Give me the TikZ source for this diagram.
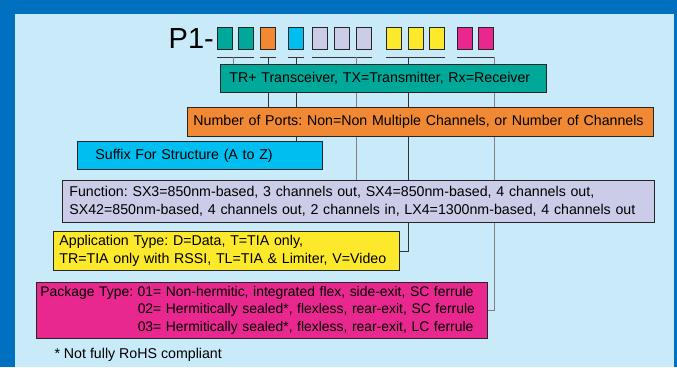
\documentclass[tikz,border=0pt]{standalone}
\usepackage{fontspec}
\setmainfont{Liberation Sans}
\usetikzlibrary{backgrounds}

\definecolor{frameblue}{RGB}{0,112,192}
\definecolor{paleblue}{RGB}{200,234,249}
\definecolor{tealc}{RGB}{0,168,154}
\definecolor{orangec}{RGB}{240,136,52}
\definecolor{cyanc}{RGB}{0,190,240}
\definecolor{lavc}{RGB}{202,204,232}
\definecolor{yellowc}{RGB}{253,233,43}
\definecolor{pinkc}{RGB}{232,40,142}

\begin{document}
\frenchspacing
\begin{tikzpicture}[x=1pt,y=-1pt,
    font=\fontsize{14.2}{17.5}\selectfont,
    codebox/.style={draw=black!85,line width=0.8pt,anchor=north west,
      inner ysep=0pt,align=left},
    digit/.style={draw=black!85,line width=1pt,minimum width=15pt,
      minimum height=22pt,inner sep=0pt,anchor=north west},
    lead/.style={black!80,line width=0.7pt},
    leadg/.style={black!50,line width=0.7pt}]
  \useasboundingbox (0,0) rectangle (677,367);

  % part number and its code digits
  \node[anchor=east,inner sep=1pt,font=\fontsize{29}{32}\selectfont]
    (title) at (215,39) {P1-};
  \foreach \x/\c [count=\i] in {217/tealc,238/tealc,260/orangec,
      288/cyanc,312/lavc,334/lavc,356/lavc,386/yellowc,408/yellowc,
      429/yellowc,457/pinkc,478/pinkc}
    \node[digit,fill=\c] (d\i) at (\x,27) {};

  % one box per field
  \node[codebox,fill=tealc,minimum height=28pt,text width=308pt,
    inner xsep=9pt] (trx) at (220,64)
    {TR+ Transceiver, TX=Transmitter, Rx=Receiver};
  \node[codebox,fill=orangec,minimum height=29pt,text width=454pt,
    inner xsep=6pt] (ports) at (187,107)
    {Number of Ports: Non=Non Multiple Channels, or Number of Channels};
  \node[codebox,fill=cyanc,minimum height=28pt,text width=209pt,
    inner xsep=18pt] (suffix) at (77,141)
    {Suffix For Structure (A to Z)};
  \node[codebox,fill=lavc,minimum height=42pt,text width=578pt,
    inner xsep=7pt] (func) at (62,180)
    {Function: SX3=850nm-based, 3 channels out, SX4=850nm-based, 4 channels out,\\
     SX42=850nm-based, 4 channels out, 2 channels in, LX4=1300nm-based, 4 channels out};
  \node[codebox,fill=yellowc,minimum height=39pt,text width=334pt,
    inner xsep=6pt] (app) at (53,231)
    {Application Type: D=Data, T=TIA only,\\
     TR=TIA only with RSSI, TL=TIA \& Limiter, V=Video};
  \node[codebox,fill=pinkc,minimum height=56pt,text width=443pt,
    inner xsep=4pt,font=\fontsize{13.9}{17.8}\selectfont] (pkg) at (36,282)
    {Package Type: 01= Non-hermitic, integrated flex, side-exit, SC ferrule\\
     \phantom{Package Type:} 02= Hermitically sealed*, flexless, rear-exit, SC ferrule\\
     \phantom{Package Type:} 03= Hermitically sealed*, flexless, rear-exit, LC ferrule};
  \node[anchor=west] (note) at (51,355) {* Not fully RoHS compliant};

  \begin{pgfonlayer}{background}
    \fill[frameblue] (0,0) rectangle (677,367);
    \fill[paleblue] (15,14) rectangle (674,367);
    % brackets under the digit groups
    \foreach \a/\b in {1/2,3/3,4/4,5/7,8/10,11/12}
      \draw[lead] ([yshift=-7pt]d\a.south west) -- ([yshift=-7pt]d\b.south east);
    % leads from the brackets to the boxes
    \draw[leadg] ([yshift=-7pt]d1.south east) -- (d1.south east |- trx.north);
    \draw[lead] ([yshift=-7pt]d3.south) -- (d3.south |- ports.north);
    \draw[lead] ([yshift=-7pt]d4.south) -- (d4.south |- suffix.north);
    \draw[leadg] ([yshift=-7pt]d7.south west) -- (d7.south west |- func.north);
    \draw[lead] ([yshift=-7pt]d9.south west) |- (app.east);
    \draw[leadg] ([yshift=-7pt]d12.south east) |- (pkg.east);
  \end{pgfonlayer}
\end{tikzpicture}
\end{document}
